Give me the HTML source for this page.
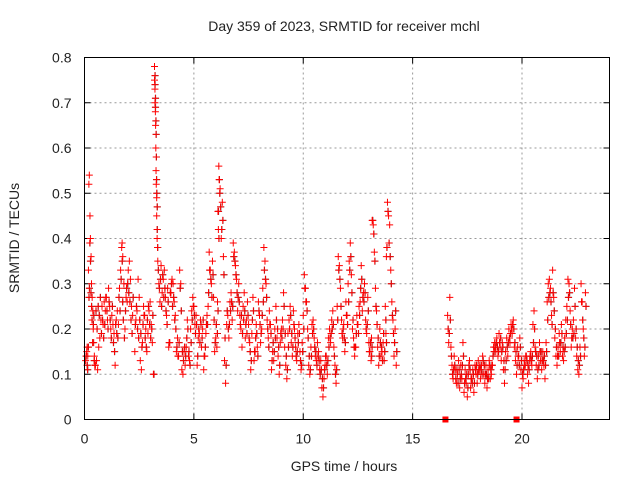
<!DOCTYPE html>
<html><head><meta charset="utf-8"><style>
body{margin:0;background:#fff}
svg text{font-family:"Liberation Sans",sans-serif;font-size:14px;fill:#222}
</style></head><body>
<svg id="chart" width="640" height="480" viewBox="0 0 640 480" xmlns="http://www.w3.org/2000/svg">
<rect width="640" height="480" fill="#fff"/>
<text x="344" y="31" text-anchor="middle">Day 359 of 2023, SRMTID for receiver mchl</text>
<g id="grid"></g>
<g id="axes"></g>
<g id="marks"></g>
<rect x="84.5" y="57.5" width="525" height="362" fill="none" stroke="#000" stroke-width="1"/>
<text x="344" y="471" text-anchor="middle">GPS time / hours</text>
<text transform="translate(19,238) rotate(-90)" text-anchor="middle">SRMTID / TECUs</text>
</svg>
<script>
const xTicks=[0,5,10,15,20];
const yTicks=[0,0.1,0.2,0.3,0.4,0.5,0.6,0.7,0.8];
const yTickLabels=["0","0.1","0.2","0.3","0.4","0.5","0.6","0.7","0.8"];
const times=[0.05,0.1,0.12,0.15,0.18,0.2,0.22,0.25,0.27,0.3,0.32,0.35,0.38,0.4,0.42,0.45,0.5,0.55,0.6,0.65,0.7,0.75,0.8,0.85,0.9,0.95,1.0,1.05,1.1,1.15,1.2,1.25,1.3,1.35,1.4,1.45,1.5,1.55,1.6,1.65,1.7,1.72,1.75,1.8,1.85,1.9,1.95,2.0,2.05,2.1,2.15,2.2,2.3,2.35,2.4,2.45,2.5,2.55,2.6,2.65,2.7,2.75,2.8,2.85,2.9,2.95,3.0,3.05,3.1,3.15,3.2,3.2,3.22,3.22,3.24,3.25,3.26,3.27,3.28,3.3,3.3,3.32,3.35,3.4,3.45,3.5,3.55,3.6,3.65,3.7,3.75,3.8,3.85,3.9,3.95,4.0,4.05,4.1,4.15,4.2,4.25,4.3,4.35,4.4,4.45,4.5,4.55,4.6,4.65,4.7,4.75,4.8,4.85,4.9,4.95,5.0,5.05,5.1,5.15,5.2,5.25,5.3,5.35,5.4,5.45,5.5,5.55,5.6,5.65,5.7,5.75,5.8,5.85,5.9,5.95,6.0,6.05,6.08,6.1,6.12,6.14,6.16,6.2,6.25,6.3,6.35,6.4,6.45,6.5,6.55,6.6,6.65,6.7,6.75,6.8,6.85,6.9,6.95,7.0,7.05,7.1,7.15,7.2,7.25,7.3,7.35,7.4,7.45,7.5,7.55,7.6,7.65,7.7,7.75,7.8,7.85,7.9,7.95,8.0,8.05,8.1,8.15,8.2,8.25,8.3,8.35,8.4,8.45,8.5,8.55,8.6,8.65,8.7,8.75,8.8,8.85,8.9,8.95,9.0,9.05,9.1,9.15,9.2,9.25,9.3,9.35,9.4,9.45,9.5,9.55,9.6,9.65,9.7,9.75,9.8,9.85,9.9,9.95,10.0,10.05,10.1,10.15,10.2,10.25,10.3,10.35,10.4,10.45,10.5,10.55,10.6,10.65,10.7,10.75,10.8,10.85,10.9,10.95,11.0,11.05,11.1,11.15,11.2,11.25,11.3,11.35,11.4,11.45,11.5,11.55,11.6,11.65,11.7,11.75,11.8,11.85,11.9,11.95,12.0,12.05,12.1,12.15,12.2,12.25,12.3,12.35,12.4,12.45,12.5,12.55,12.6,12.65,12.7,12.75,12.8,12.85,12.9,12.95,13.0,13.05,13.1,13.12,13.15,13.2,13.25,13.3,13.35,13.4,13.45,13.5,13.55,13.6,13.65,13.7,13.75,13.78,13.8,13.85,13.9,13.95,14.0,14.05,14.1,14.15,14.2,14.25,16.6,16.65,16.7,16.75,16.8,16.85,16.9,16.95,17.0,17.05,17.1,17.15,17.2,17.25,17.3,17.35,17.4,17.45,17.5,17.55,17.6,17.65,17.7,17.75,17.8,17.85,17.9,17.95,18.0,18.05,18.1,18.15,18.2,18.25,18.3,18.35,18.4,18.45,18.5,18.55,18.6,18.65,18.7,18.75,18.8,18.85,18.9,18.95,19.0,19.05,19.1,19.15,19.2,19.25,19.3,19.35,19.4,19.45,19.5,19.55,19.6,19.65,19.7,19.75,19.8,19.85,19.9,19.95,20.0,20.05,20.1,20.15,20.2,20.25,20.3,20.35,20.4,20.45,20.5,20.55,20.6,20.65,20.7,20.75,20.8,20.85,20.9,20.95,21.0,21.05,21.1,21.15,21.2,21.25,21.3,21.35,21.4,21.45,21.5,21.55,21.6,21.65,21.7,21.75,21.8,21.85,21.9,21.95,22.0,22.05,22.1,22.15,22.2,22.25,22.3,22.35,22.4,22.45,22.5,22.55,22.6,22.65,22.7,22.75,22.8,22.85,22.9];
const valsA=[0.13,0.15,0.16,0.14,0.33,0.52,0.54,0.45,0.40,0.36,0.30,0.27,0.24,0.20,0.17,0.14,0.12,0.13,0.11,0.16,0.18,0.22,0.25,0.21,0.26,0.24,0.27,0.22,0.29,0.25,0.20,0.23,0.21,0.19,0.12,0.22,0.24,0.21,0.29,0.33,0.38,0.39,0.36,0.30,0.20,0.27,0.26,0.33,0.35,0.31,0.25,0.23,0.15,0.22,0.24,0.31,0.27,0.13,0.11,0.17,0.25,0.23,0.20,0.15,0.19,0.24,0.26,0.21,0.17,0.10,0.78,0.75,0.73,0.70,0.68,0.65,0.60,0.55,0.52,0.49,0.45,0.40,0.35,0.30,0.26,0.34,0.28,0.31,0.33,0.27,0.23,0.29,0.16,0.17,0.28,0.31,0.30,0.26,0.23,0.15,0.18,0.14,0.33,0.30,0.11,0.10,0.15,0.12,0.16,0.22,0.14,0.13,0.20,0.24,0.27,0.25,0.21,0.23,0.12,0.18,0.19,0.22,0.16,0.20,0.11,0.14,0.19,0.23,0.25,0.37,0.33,0.30,0.35,0.27,0.15,0.18,0.16,0.26,0.46,0.42,0.56,0.53,0.51,0.40,0.48,0.36,0.13,0.08,0.21,0.23,0.18,0.26,0.28,0.22,0.39,0.37,0.34,0.31,0.24,0.30,0.23,0.20,0.16,0.25,0.28,0.18,0.22,0.26,0.21,0.17,0.11,0.19,0.27,0.13,0.15,0.21,0.16,0.26,0.23,0.17,0.20,0.29,0.38,0.35,0.30,0.22,0.18,0.24,0.21,0.11,0.15,0.13,0.20,0.25,0.18,0.14,0.10,0.17,0.20,0.22,0.28,0.16,0.12,0.09,0.19,0.22,0.25,0.17,0.14,0.24,0.20,0.16,0.13,0.19,0.21,0.15,0.11,0.17,0.23,0.32,0.29,0.26,0.20,0.12,0.10,0.16,0.21,0.22,0.18,0.14,0.13,0.17,0.15,0.11,0.13,0.07,0.05,0.09,0.12,0.14,0.10,0.18,0.20,0.17,0.22,0.24,0.16,0.12,0.08,0.25,0.36,0.34,0.29,0.22,0.18,0.21,0.15,0.26,0.23,0.30,0.35,0.39,0.32,0.20,0.18,0.14,0.16,0.23,0.21,0.25,0.26,0.34,0.24,0.28,0.30,0.22,0.19,0.27,0.17,0.15,0.13,0.18,0.44,0.43,0.37,0.29,0.24,0.16,0.12,0.20,0.14,0.15,0.17,0.13,0.25,0.19,0.36,0.48,0.45,0.43,0.33,0.26,0.22,0.14,0.20,0.12,0.23,0.17,0.27,0.16,0.12,0.09,0.14,0.11,0.08,0.10,0.13,0.07,0.12,0.09,0.17,0.06,0.11,0.08,0.05,0.10,0.13,0.07,0.09,0.11,0.06,0.12,0.10,0.08,0.13,0.11,0.09,0.12,0.14,0.10,0.08,0.12,0.07,0.11,0.13,0.09,0.10,0.12,0.16,0.17,0.15,0.18,0.14,0.19,0.16,0.13,0.17,0.11,0.08,0.15,0.18,0.14,0.20,0.17,0.21,0.19,0.22,0.16,0.13,0.10,0.16,0.14,0.18,0.11,0.07,0.09,0.13,0.12,0.14,0.10,0.08,0.13,0.15,0.12,0.21,0.24,0.16,0.12,0.09,0.14,0.17,0.13,0.11,0.15,0.12,0.09,0.17,0.26,0.30,0.31,0.29,0.23,0.33,0.27,0.18,0.14,0.12,0.16,0.19,0.15,0.21,0.14,0.13,0.18,0.22,0.25,0.31,0.30,0.24,0.16,0.20,0.22,0.29,0.18,0.14,0.11,0.10,0.16,0.30,0.26,0.20,0.14,0.28,0.23,0.17];
const valsB=[0.14,0.12,0.11,0.16,0.27,0.29,0.39,0.35,0.28,0.25,0.22,0.17,0.21,0.23,0.13,0.12,0.24,0.20,0.25,0.23,0.27,0.19,0.22,0.18,0.21,0.27,0.24,0.20,0.26,0.22,0.18,0.25,0.17,0.15,0.21,0.19,0.18,0.27,0.24,0.31,0.35,0.26,0.22,0.18,0.24,0.29,0.30,0.28,0.26,0.22,0.19,0.27,0.21,0.25,0.20,0.18,0.22,0.19,0.16,0.21,0.23,0.18,0.16,0.22,0.25,0.21,0.18,0.20,0.23,0.10,0.74,0.76,0.71,0.69,0.66,0.63,0.58,0.53,0.50,0.47,0.42,0.38,0.33,0.29,0.31,0.25,0.32,0.27,0.29,0.24,0.21,0.26,0.17,0.28,0.30,0.25,0.27,0.22,0.20,0.16,0.14,0.17,0.29,0.24,0.15,0.13,0.16,0.14,0.18,0.20,0.15,0.12,0.17,0.22,0.25,0.23,0.19,0.21,0.14,0.20,0.17,0.21,0.18,0.22,0.14,0.16,0.21,0.21,0.28,0.33,0.31,0.27,0.32,0.22,0.17,0.21,0.19,0.24,0.46,0.40,0.53,0.50,0.47,0.42,0.44,0.32,0.18,0.12,0.24,0.20,0.21,0.24,0.26,0.25,0.36,0.35,0.32,0.28,0.27,0.26,0.21,0.23,0.19,0.22,0.24,0.21,0.19,0.23,0.18,0.15,0.13,0.22,0.24,0.15,0.18,0.19,0.14,0.24,0.21,0.19,0.23,0.26,0.33,0.31,0.27,0.20,0.16,0.21,0.19,0.13,0.17,0.15,0.18,0.22,0.20,0.16,0.12,0.19,0.18,0.20,0.25,0.19,0.14,0.11,0.16,0.20,0.23,0.19,0.16,0.21,0.18,0.14,0.15,0.17,0.19,0.13,0.12,0.15,0.20,0.29,0.26,0.24,0.18,0.14,0.11,0.14,0.19,0.20,0.16,0.15,0.12,0.14,0.13,0.10,0.11,0.09,0.07,0.11,0.14,0.12,0.13,0.16,0.18,0.19,0.20,0.21,0.14,0.10,0.11,0.22,0.33,0.31,0.25,0.19,0.20,0.18,0.17,0.23,0.21,0.26,0.33,0.36,0.28,0.22,0.16,0.16,0.19,0.21,0.19,0.23,0.29,0.31,0.27,0.26,0.28,0.20,0.21,0.24,0.15,0.17,0.14,0.16,0.44,0.41,0.35,0.25,0.21,0.18,0.14,0.17,0.16,0.13,0.19,0.15,0.22,0.17,0.38,0.46,0.39,0.36,0.30,0.23,0.19,0.17,0.24,0.15,0.20,0.19,0.22,0.14,0.10,0.11,0.12,0.09,0.11,0.08,0.11,0.09,0.10,0.12,0.14,0.08,0.09,0.10,0.07,0.12,0.11,0.09,0.08,0.10,0.08,0.11,0.12,0.10,0.11,0.12,0.11,0.10,0.13,0.12,0.10,0.10,0.09,0.09,0.12,0.11,0.12,0.14,0.15,0.16,0.17,0.16,0.15,0.17,0.18,0.15,0.16,0.13,0.11,0.13,0.16,0.17,0.18,0.19,0.20,0.21,0.20,0.17,0.15,0.12,0.14,0.12,0.16,0.13,0.10,0.11,0.12,0.14,0.13,0.12,0.11,0.14,0.13,0.14,0.17,0.20,0.15,0.14,0.11,0.12,0.15,0.15,0.13,0.13,0.14,0.12,0.15,0.22,0.27,0.28,0.26,0.21,0.28,0.24,0.20,0.16,0.14,0.14,0.17,0.17,0.19,0.16,0.15,0.16,0.19,0.22,0.27,0.28,0.21,0.18,0.18,0.19,0.25,0.20,0.16,0.13,0.12,0.14,0.26,0.22,0.18,0.16,0.25,0.20,0.15];
const zeroTimes=[16.5,19.75];
const zeroVals=[0,0];

const X0=84.5,X1=609.5,Y0=419.5,Y1=57.5,XMAX=24,YMAX=0.8;
const ns="http://www.w3.org/2000/svg";
function xs(v){return X0+(X1-X0)*v/XMAX;}
function ys(v){return Y0-(Y0-Y1)*v/YMAX;}
function mk(t,a){const e=document.createElementNS(ns,t);for(const k in a)e.setAttribute(k,a[k]);return e;}
const grid=document.getElementById('grid'),axes=document.getElementById('axes'),marks=document.getElementById('marks');
xTicks.forEach((t,i)=>{
  const x=xs(t);
  if(t>0){const g=mk('line',{x1:x,x2:x,y1:Y1,y2:Y0,stroke:'#999','stroke-dasharray':'2,3'});
  
  
  grid.appendChild(g);}
  const tk=mk('path',{d:`M${x},${Y0}v-6M${x},${Y1}v6`,stroke:'#000'});
  
  
  axes.appendChild(tk);
  const l=mk('text',{x:x,y:Y0+24,'text-anchor':'middle'});l.textContent=String(t);
  
  
  axes.appendChild(l);
});
yTicks.forEach((t,i)=>{
  const y=ys(t);
  if(t>0&&t<YMAX){const g=mk('line',{x1:X0,x2:X1,y1:y,y2:y,stroke:'#999','stroke-dasharray':'2,3'});
  
  
  grid.appendChild(g);}
  const tk=mk('path',{d:`M${X0},${y}h6M${X1},${y}h-6`,stroke:'#000'});
  
  
  axes.appendChild(tk);
  const l=mk('text',{x:X0-13,y:y+5,'text-anchor':'end'});l.textContent=yTickLabels[i];
  
  
  axes.appendChild(l);
});
function plus(t,v,col,name){
  const x=xs(t),y=ys(v);
  const p=mk('path',{d:`M${x-3.5},${y}h7M${x},${y-3.5}v7`,stroke:col,'stroke-width':1});
  
  
  marks.appendChild(p);
}
times.forEach((t,i)=>{plus(t+0.03,valsB[i],'#333','point-black');});
times.forEach((t,i)=>{plus(t,valsA[i],'#f00','point-red');plus(t+0.02,valsB[i],'#f00','point-red');});
zeroTimes.forEach((t,i)=>{
  const r=mk('rect',{x:xs(t)-3,y:ys(zeroVals[i])-3,width:6,height:6,fill:'#f00'});
  
  
  marks.appendChild(r);
});
</script>
</body></html>
